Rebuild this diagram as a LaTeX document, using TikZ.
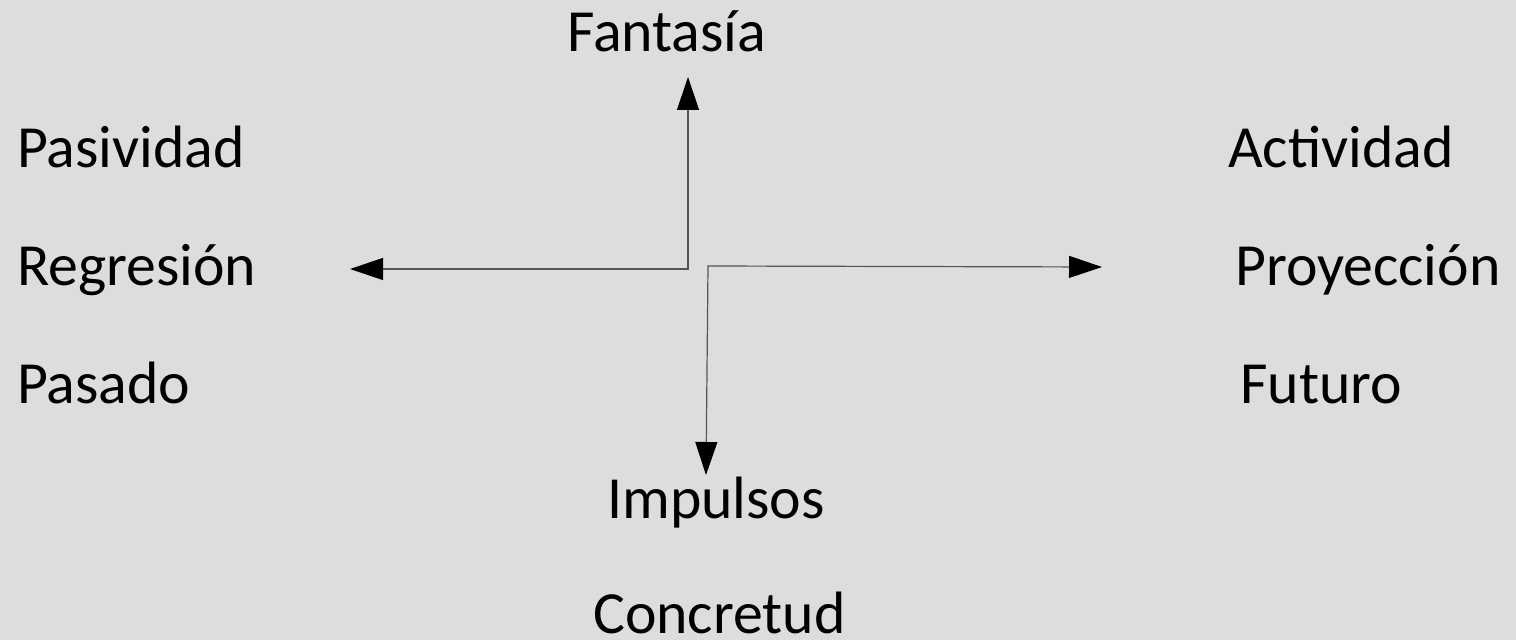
\documentclass[tikz,border=0pt]{standalone}
\usepackage{fontspec}
\setmainfont{Carlito}
\usetikzlibrary{arrows.meta}
\definecolor{paper}{RGB}{221,221,221}
\definecolor{axisgray}{RGB}{85,85,85}

\begin{document}
\begin{tikzpicture}[x=1bp, y=-1bp,
    lbl/.style = {inner sep=0, anchor=base west, font=\fontsize{60}{72}\selectfont},
    tip/.style = {Triangle[length=33bp, width=22bp, color=black]},
    axe/.style = {draw=axisgray, line width=1.2bp, {Triangle[length=33bp, width=22bp, color=black]}-{Triangle[length=33bp, width=22bp, color=black]}}]
    \fill[paper] (0,0) rectangle (1516,640);
    \useasboundingbox (0,0) rectangle (1516,640);

    % labels
    \node[lbl] (fantasia) at (567,52) {Fantasía};
    \node[lbl] (pasividad) at (17,168) {Pasividad};
    \node[lbl] (regresion) at (17,285) {Regresión};
    \node[lbl] (pasado) at (17,403) {Pasado};
    \node[lbl] (actividad) at (1228,168) {Actividad};
    \node[lbl] (proyeccion) at (1235,285) {Proyección};
    \node[lbl] (futuro) at (1240,403) {Futuro};
    \node[lbl] (impulsos) at (607,518) {Impulsos};
    \node[lbl] (concretud) at (593,633) {Concretud};

    % corners and arrow ends
    \coordinate (lcorner) at (688,269);
    \coordinate (rcorner) at (708,266);
    \coordinate (upend) at (688,77);
    \coordinate (leftend) at (350,269);
    \coordinate (rightend) at (1102,267);
    \coordinate (downend) at (706,475);

    \draw[axe] (leftend) -- (lcorner) -- (upend);
    \draw[axe] (rightend) -- (rcorner) -- (downend);
\end{tikzpicture}
\end{document}
